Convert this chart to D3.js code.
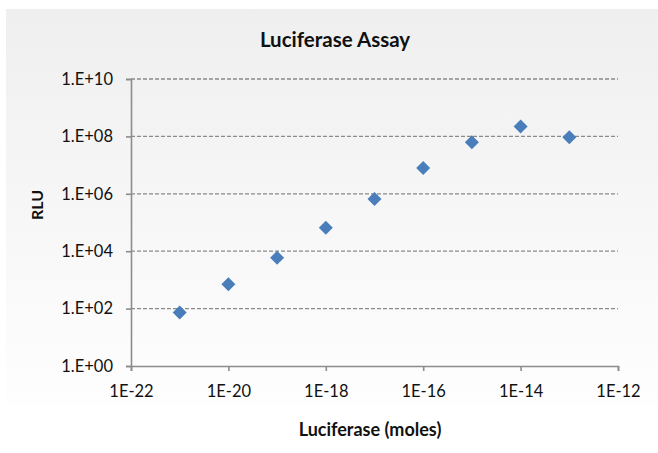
<!DOCTYPE html>
<meta charset="utf-8">
<style>
  body { margin: 0; background: #fff; }
  text { font-family: Lato, "Open Sans", sans-serif; fill: #111; }
</style>
<script src="https://d3js.org/d3.v7.min.js"></script>
<div id="chart"></div>
<script>

// data
var moles = [1e-21, 1e-20, 1e-19, 1e-18, 1e-17, 1e-16, 1e-15, 1e-14, 1e-13];
var rlu = [73, 710, 5900, 66000, 660000, 7.9e6, 6.3e7, 2.2e8, 9.4e7];
var xTicks = [1e-22, 1e-20, 1e-18, 1e-16, 1e-14, 1e-12];
var xTickLabels = ["1E-22", "1E-20", "1E-18", "1E-16", "1E-14", "1E-12"];
var yTicks = [1, 1e2, 1e4, 1e6, 1e8, 1e10];
var yTickLabels = ["1.E+00", "1.E+02", "1.E+04", "1.E+06", "1.E+08", "1.E+10"];

var W = 658, H = 453;
var margin = {top: 79, right: 40, bottom: 87, left: 131};
var width = W - margin.left - margin.right,
    height = H - margin.top - margin.bottom;

var svg = d3.select("#chart").append("svg")
  .attr("width", W)
  .attr("height", H);

// background with a soft gradient
var grad = svg.append("defs").append("linearGradient")
  .attr("id", "bg").attr("x1", 0).attr("y1", 0).attr("x2", 0).attr("y2", 1);
grad.append("stop").attr("offset", "0%").attr("stop-color", "#efefef");
grad.append("stop").attr("offset", "100%").attr("stop-color", "#fefefe");

svg.append("rect")
  .attr("x", 6).attr("y", 9)
  .attr("width", W - 6).attr("height", 395)
  .attr("fill", "url(#bg)");

var g = svg.append("g")
  .attr("transform", "translate(" + margin.left + "," + margin.top + ")");

var x = d3.scaleLog().domain([1e-22, 1e-12]).range([0, width]);
var y = d3.scaleLog().domain([1, 1e10]).range([height, 0]);

// gridlines
g.selectAll(".grid")
  .data(yTicks.slice(1))
  .enter().append("line")
    .attr("x1", 0).attr("x2", width)
    .attr("y1", function(d) { return y(d); })
    .attr("y2", function(d) { return y(d); })
    .attr("stroke", "#8a8a8a")
    .attr("stroke-width", 1.3)
    .attr("stroke-dasharray", "4,2");

// y axis
var yAxis = g.append("g")
  .call(d3.axisLeft(y)
    .tickValues(yTicks)
    .tickSize(5)
    .tickPadding(13)
    .tickFormat(function(d, i) { return yTickLabels[i]; }));

// x axis
var xAxis = g.append("g")
  .attr("transform", "translate(0," + height + ")")
  .call(d3.axisBottom(x)
    .tickValues(xTicks)
    .tickSize(5)
    .tickPadding(14)
    .tickFormat(function(d, i) { return xTickLabels[i]; }));

[xAxis, yAxis].forEach(function(ax) {
  ax.select(".domain").attr("stroke", "#8c8c8c").attr("stroke-width", 1.6);
  ax.selectAll(".tick line").attr("stroke", "#8c8c8c").attr("stroke-width", 1.6);
  ax.selectAll(".tick text")
    .style("font-family", "Lato, sans-serif")
    .style("font-size", "16.5px")
    .attr("fill", "#111");
});

// diamonds
g.selectAll(".pt")
  .data(moles)
  .enter().append("path")
    .attr("d", d3.symbol().type(d3.symbolDiamond2).size(125))
    .attr("transform", function(d, i) {
      return "translate(" + x(d) + "," + y(rlu[i]) + ")";
    })
    .attr("fill", "#4a7ebb");

// titles
svg.append("text")
  .attr("x", 335).attr("y", 47)
  .attr("text-anchor", "middle")
  .style("font-size", "20.5px")
  .style("font-weight", "bold")
  .text("Luciferase Assay");

svg.append("text")
  .attr("x", 370).attr("y", 436)
  .attr("text-anchor", "middle")
  .style("font-size", "18px")
  .style("font-weight", "bold")
  .text("Luciferase (moles)");

svg.append("text")
  .attr("transform", "translate(43,205) rotate(-90)")
  .attr("text-anchor", "middle")
  .style("font-size", "16px")
  .style("font-weight", "bold")
  .text("RLU");

</script>
